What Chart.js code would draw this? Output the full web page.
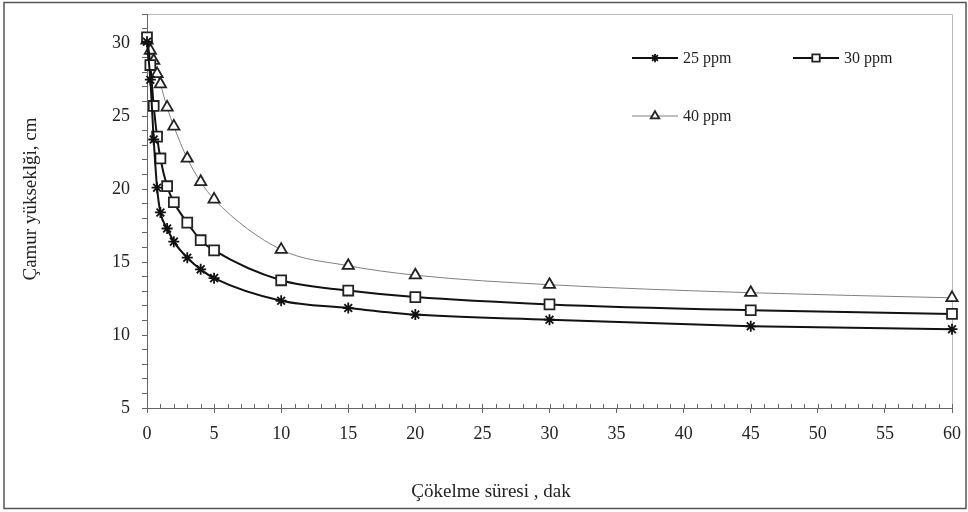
<!DOCTYPE html>
<html>
<head>
<meta charset="utf-8">
<script src="https://cdn.jsdelivr.net/npm/chart.js@4.4.1/dist/chart.umd.min.js"></script>
<style>
  html, body { margin: 0; padding: 0; background: #fff; }
  #wrap { width: 968px; height: 512px; position: relative; }
</style>
</head>
<body>
<div id="wrap"><canvas id="c" width="968" height="512"></canvas></div>
<script>
// ---- data ----
const timeMin = [0, 0.25, 0.5, 0.75, 1, 1.5, 2, 3, 4, 5, 10, 15, 20, 30, 45, 60];
const ppm25 = [30.1, 27.5, 23.4, 20.1, 18.4, 17.3, 16.4, 15.3, 14.5, 13.9, 12.35, 11.85, 11.4, 11.05, 10.6, 10.4];
const ppm30 = [30.4, 28.5, 25.7, 23.6, 22.1, 20.2, 19.1, 17.7, 16.5, 15.8, 13.75, 13.05, 12.6, 12.1, 11.7, 11.45];
const ppm40 = [30.2, 29.5, 28.8, 27.9, 27.2, 25.6, 24.3, 22.1, 20.5, 19.3, 15.85, 14.75, 14.1, 13.45, 12.9, 12.55];
const seriesNames = ['25 ppm', '30 ppm', '40 ppm'];
const xTitle = 'Çökelme süresi , dak';
const yTitle = 'Çamur yükseklği, cm';

function pts(ys) { return timeMin.map((t, i) => ({ x: t, y: ys[i] })); }

const FONT = '"Liberation Serif", "Times New Roman", serif';

const frame = {
  id: 'frame',
  beforeDraw(chart) {
    const ctx = chart.ctx;
    ctx.save();
    ctx.strokeStyle = '#555';
    ctx.lineWidth = 1.5;
    ctx.strokeRect(4, 2.5, 962, 506);
    const a = chart.chartArea;
    ctx.strokeStyle = '#b8b8b8';
    ctx.lineWidth = 1;
    ctx.beginPath();
    ctx.moveTo(a.left, a.top + 0.5);
    ctx.lineTo(a.right + 0.5, a.top + 0.5);
    ctx.lineTo(a.right + 0.5, a.bottom);
    ctx.stroke();
    ctx.restore();
  },
  afterDraw(chart) {
    const ctx = chart.ctx;
    const xs = chart.scales.x;
    ctx.save();
    // inward ticks on x axis
    ctx.strokeStyle = '#666';
    ctx.lineWidth = 1;
    ctx.beginPath();
    for (let v = 0; v <= 60; v++) {
      const px = Math.round(xs.getPixelForValue(v)) + 0.5;
      ctx.moveTo(px, xs.top);
      ctx.lineTo(px, xs.top - 4);
    }
    ctx.stroke();
    // axis titles
    ctx.fillStyle = '#222';
    ctx.font = '19px ' + FONT;
    ctx.textAlign = 'center';
    ctx.textBaseline = 'middle';
    ctx.fillText(xTitle, 491, 492);
    ctx.translate(31, 199);
    ctx.rotate(-Math.PI / 2);
    ctx.fillText(yTitle, 0, 0);
    ctx.restore();

    // legend
    const items = [
      { ds: 0, x: 632, y: 58 },
      { ds: 1, x: 793, y: 58 },
      { ds: 2, x: 632, y: 116 }
    ];
    ctx.save();
    items.forEach(it => {
      const d = chart.data.datasets[it.ds];
      ctx.strokeStyle = d.borderColor;
      ctx.lineWidth = d.borderWidth;
      ctx.beginPath();
      ctx.moveTo(it.x, it.y);
      ctx.lineTo(it.x + 46, it.y);
      ctx.stroke();
      const opts = { pointStyle: d.pointStyle, radius: d.pointRadius * 0.75, rotation: 0, borderWidth: d.pointBorderWidth };
      ctx.fillStyle = d.pointBackgroundColor;
      ctx.strokeStyle = d.pointBorderColor;
      ctx.lineWidth = d.pointBorderWidth;
      if (Chart.helpers && Chart.helpers.drawPoint) {
        Chart.helpers.drawPoint(ctx, opts, it.x + 23, it.y);
      }
      ctx.fillStyle = '#222';
      ctx.font = '16px ' + FONT;
      ctx.textAlign = 'left';
      ctx.textBaseline = 'middle';
      ctx.fillText(d.label, it.x + 51, it.y + 1);
    });
    ctx.restore();
  }
};

const tickFont = { family: FONT, size: 18 };

new Chart(document.getElementById('c'), {
  type: 'line',
  data: {
    datasets: [
      {
        label: seriesNames[0], data: pts(ppm25),
        borderColor: '#111', borderWidth: 2,
        pointStyle: 'star', pointRadius: 5.5, pointBorderWidth: 1.8,
        pointBorderColor: '#111', pointBackgroundColor: '#111',
        cubicInterpolationMode: 'monotone', clip: false
      },
      {
        label: seriesNames[1], data: pts(ppm30),
        borderColor: '#111', borderWidth: 2,
        pointStyle: 'rect', pointRadius: 7, pointBorderWidth: 1.8,
        pointBorderColor: '#222', pointBackgroundColor: '#fff',
        cubicInterpolationMode: 'monotone', clip: false
      },
      {
        label: seriesNames[2], data: pts(ppm40),
        borderColor: '#808080', borderWidth: 1,
        pointStyle: 'triangle', pointRadius: 6.5, pointBorderWidth: 1.8,
        pointBorderColor: '#222', pointBackgroundColor: '#fff',
        cubicInterpolationMode: 'monotone', clip: false
      }
    ]
  },
  options: {
    responsive: false,
    animation: false,
    devicePixelRatio: 1,
    layout: { padding: { left: 0, right: 16, top: 14, bottom: 0 } },
    plugins: { legend: { display: false }, tooltip: { enabled: false }, title: { display: false } },
    elements: { point: { hoverRadius: 6 } },
    scales: {
      x: {
        type: 'linear', min: 0, max: 60,
        afterFit(s) { s.height = 104; s.paddingLeft = 0; s.paddingRight = 0; },
        border: { display: true, color: '#666', width: 1 },
        grid: {
          drawOnChartArea: false, drawTicks: true, tickLength: 5,
          color: c => (c.tick && c.tick.value % 5 === 0) ? '#666' : 'rgba(0,0,0,0)'
        },
        ticks: {
          stepSize: 1, autoSkip: false, maxRotation: 0, padding: 10,
          color: '#222', font: tickFont,
          callback: v => (v % 5 === 0 ? String(v) : '')
        }
      },
      y: {
        type: 'linear', min: 5, max: 32,
        afterFit(s) { s.width = 147; s.paddingTop = 0; s.paddingBottom = 0; },
        border: { display: true, color: '#666', width: 1 },
        grid: { drawOnChartArea: false, drawTicks: true, tickLength: 5, color: '#666' },
        ticks: {
          stepSize: 1, autoSkip: false, padding: 12,
          color: '#222', font: tickFont,
          callback: v => (v % 5 === 0 && v <= 30 ? String(v) : '')
        }
      }
    }
  },
  plugins: [frame]
});
</script>
</body>
</html>
